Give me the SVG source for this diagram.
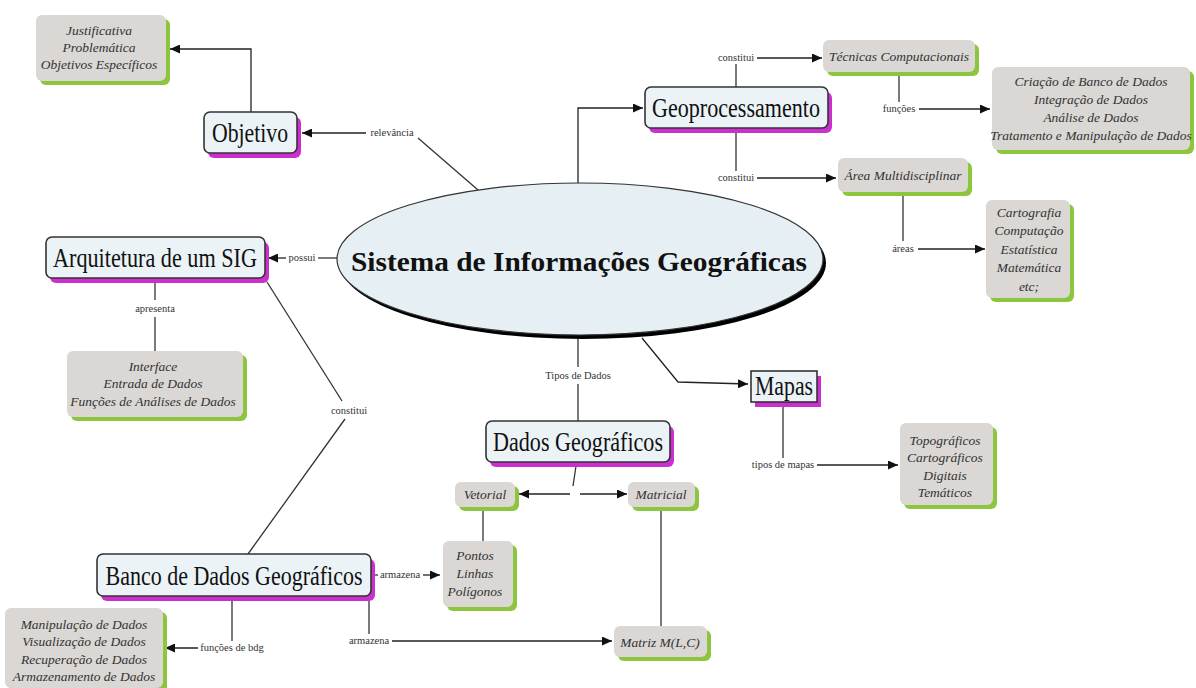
<svg xmlns="http://www.w3.org/2000/svg" width="1196" height="688" viewBox="0 0 1196 688" font-family="'Liberation Serif','Times New Roman',serif">
<defs>
<marker id="arr" markerUnits="userSpaceOnUse" markerWidth="11" markerHeight="9" refX="10" refY="4.5" orient="auto">
<path d="M0,0 L10,4.5 L0,9 z" fill="#111"/>
</marker>
<style>
.bg{fill:#ffffff}
.node{fill:#ebf3f7;stroke:#333;stroke-width:1.6}
.mag{fill:#cc2fd0}
.gray{fill:#dad7d4}
.grn{fill:#8cc63e}
.t{font-family:"Liberation Serif","Times New Roman",serif;fill:#111;text-anchor:middle;font-size:22px}
.it{font-family:"Liberation Serif","Times New Roman",serif;font-style:italic;font-size:13.5px;fill:#333;text-anchor:middle}
.lbl{font-family:"Liberation Serif","Times New Roman",serif;font-size:10.5px;fill:#333;text-anchor:middle}
.ln{fill:none;stroke:#333;stroke-width:1.3}
.la{fill:none;stroke:#222;stroke-width:1.3;marker-end:url(#arr)}
</style>
</defs>
<rect class="bg" x="0" y="0" width="1196" height="688"/>

<g id="connectors">
<!-- relevancia -->
<line class="ln" x1="478" y1="190" x2="418" y2="138"/>
<text class="lbl" x="392" y="136">relevância</text>
<line class="la" x1="366" y1="133" x2="302" y2="133"/>
<!-- objetivo -> justificativa -->
<polyline class="la" points="251,112 251,49 170,49"/>
<!-- geoprocessamento -->
<polyline class="la" points="578,183 578,108 643,108"/>
<!-- constitui top -->
<line class="ln" x1="736" y1="87" x2="736" y2="64"/>
<text class="lbl" x="736" y="61">constitui</text>
<line class="la" x1="757" y1="58" x2="822" y2="58"/>
<!-- funcoes -->
<line class="ln" x1="899" y1="76" x2="899" y2="102"/>
<text class="lbl" x="899" y="112">funções</text>
<line class="la" x1="919" y1="109" x2="990" y2="109"/>
<!-- constitui lower -->
<line class="ln" x1="736" y1="133" x2="736" y2="171"/>
<text class="lbl" x="736" y="181">constitui</text>
<line class="la" x1="757" y1="178" x2="836" y2="178"/>
<!-- areas -->
<line class="ln" x1="903" y1="196" x2="903" y2="241"/>
<text class="lbl" x="903" y="252">áreas</text>
<line class="la" x1="918" y1="249" x2="985" y2="249"/>
<!-- possui -->
<line class="ln" x1="337" y1="258" x2="318" y2="258"/>
<text class="lbl" x="302" y="261">possui</text>
<line class="la" x1="286" y1="258" x2="268" y2="258"/>
<!-- apresenta -->
<line class="ln" x1="155" y1="283" x2="155" y2="300"/>
<text class="lbl" x="155" y="312">apresenta</text>
<line class="ln" x1="155" y1="317" x2="155" y2="351"/>
<!-- constitui arq -> banco -->
<line class="ln" x1="267" y1="282" x2="342" y2="401"/>
<text class="lbl" x="349" y="414">constitui</text>
<line class="ln" x1="345" y1="419" x2="248" y2="554"/>
<!-- tipos de dados -->
<line class="ln" x1="578" y1="338" x2="578" y2="367"/>
<text class="lbl" x="578" y="379">Tipos de Dados</text>
<line class="ln" x1="578" y1="384" x2="578" y2="421"/>
<!-- mapas -->
<polyline class="la" points="642,338 678,382 748,384"/>
<!-- tipos de mapas -->
<line class="ln" x1="783" y1="406" x2="783" y2="458"/>
<text class="lbl" x="783" y="468">tipos de mapas</text>
<line class="la" x1="817" y1="465" x2="898" y2="465"/>
<!-- dados -> vetorial / matricial -->
<line class="ln" x1="576" y1="466" x2="573" y2="486"/>
<line class="la" x1="570" y1="494" x2="519" y2="494"/>
<line class="la" x1="580" y1="494" x2="627" y2="494"/>
<!-- vetorial -> pontos -->
<line class="ln" x1="483" y1="511" x2="483" y2="541"/>
<!-- matricial -> matriz -->
<line class="ln" x1="661" y1="511" x2="661" y2="626"/>
<!-- armazena right -->
<line class="ln" x1="372" y1="575" x2="378" y2="575"/>
<text class="lbl" x="400" y="578">armazena</text>
<line class="la" x1="423" y1="575" x2="440" y2="575"/>
<!-- funcoes de bdg -->
<line class="ln" x1="232" y1="601" x2="232" y2="641"/>
<text class="lbl" x="232" y="651">funções de bdg</text>
<line class="la" x1="198" y1="648" x2="165" y2="648"/>
<!-- armazena lower -->
<line class="ln" x1="369" y1="601" x2="369" y2="634"/>
<text class="lbl" x="369" y="644">armazena</text>
<line class="la" x1="392" y1="641" x2="612" y2="641"/>
</g>

<g id="sig">
<ellipse cx="583" cy="263" rx="243" ry="76" fill="#000"/>
<ellipse cx="580" cy="259" rx="243" ry="76" fill="#e6eff3" stroke="#333" stroke-width="1.2"/>
<text class="t" transform="translate(579,271) scale(1,1.26)" font-size="29.4" font-weight="bold" textLength="456" lengthAdjust="spacingAndGlyphs">Sistema de Informações Geográficas</text>
</g>

<g id="justificativa">
<rect class="grn" x="40" y="19" width="130" height="66" rx="6"/>
<rect class="gray" x="36" y="15" width="130" height="66" rx="6"/>
<text class="it" x="99" y="35">Justificativa</text>
<text class="it" x="99" y="52">Problemática</text>
<text class="it" x="99" y="69">Objetivos Específicos</text>
</g>

<g id="objetivo">
<rect class="mag" x="208" y="117" width="93" height="41" rx="6"/>
<rect class="node" x="204" y="112" width="93" height="41" rx="6"/>
<text class="t" transform="translate(250,142) scale(1,1.23)" textLength="76" lengthAdjust="spacingAndGlyphs">Objetivo</text>
</g>

<g id="geoprocessamento">
<rect class="mag" x="649" y="92" width="183" height="41" rx="6"/>
<rect class="node" x="645" y="87" width="183" height="41" rx="6"/>
<text class="t" transform="translate(736,117) scale(1,1.23)" textLength="168" lengthAdjust="spacingAndGlyphs">Geoprocessamento</text>
</g>

<g id="tecnicas">
<rect class="grn" x="827" y="44" width="152" height="32" rx="6"/>
<rect class="gray" x="823" y="40" width="152" height="32" rx="6"/>
<text class="it" x="899" y="61">Técnicas Computacionais</text>
</g>

<g id="criacao">
<rect class="grn" x="996" y="71" width="198" height="83" rx="6"/>
<rect class="gray" x="992" y="67" width="198" height="83" rx="6"/>
<text class="it" x="1091" y="86">Criação de Banco de Dados</text>
<text class="it" x="1091" y="104">Integração de Dados</text>
<text class="it" x="1091" y="122">Análise de Dados</text>
<text class="it" x="1091" y="140">Tratamento e Manipulação de Dados</text>
</g>

<g id="area">
<rect class="grn" x="842" y="162" width="130" height="34" rx="6"/>
<rect class="gray" x="838" y="158" width="130" height="34" rx="6"/>
<text class="it" x="903" y="180">Área Multidisciplinar</text>
</g>

<g id="cartografia">
<rect class="grn" x="990" y="204" width="84" height="98" rx="6"/>
<rect class="gray" x="986" y="200" width="84" height="98" rx="6"/>
<text class="it" x="1029" y="217">Cartografia</text>
<text class="it" x="1029" y="235">Computação</text>
<text class="it" x="1029" y="254">Estatística</text>
<text class="it" x="1029" y="272">Matemática</text>
<text class="it" x="1029" y="291">etc;</text>
</g>

<g id="arquitetura">
<rect class="mag" x="50" y="242" width="219" height="41" rx="6"/>
<rect class="node" x="46" y="237" width="219" height="41" rx="6"/>
<text class="t" transform="translate(155,267) scale(1,1.23)" textLength="204" lengthAdjust="spacingAndGlyphs">Arquitetura de um SIG</text>
</g>

<g id="interface">
<rect class="grn" x="71" y="355" width="176" height="66" rx="6"/>
<rect class="gray" x="67" y="351" width="176" height="66" rx="6"/>
<text class="it" x="153" y="371">Interface</text>
<text class="it" x="153" y="388">Entrada de Dados</text>
<text class="it" x="153" y="406">Funções de Análises de Dados</text>
</g>

<g id="mapas">
<rect class="mag" x="755" y="376" width="66" height="31"/>
<rect class="node" x="751" y="371" width="66" height="31"/>
<text class="t" transform="translate(784,395) scale(1,1.23)" textLength="58" lengthAdjust="spacingAndGlyphs">Mapas</text>
</g>

<g id="topograficos">
<rect class="grn" x="904" y="427" width="93" height="82" rx="6"/>
<rect class="gray" x="900" y="423" width="93" height="82" rx="6"/>
<text class="it" x="945" y="445">Topográficos</text>
<text class="it" x="945" y="462">Cartográficos</text>
<text class="it" x="945" y="480">Digitais</text>
<text class="it" x="945" y="497">Temáticos</text>
</g>

<g id="dados">
<rect class="mag" x="490" y="426" width="184" height="41" rx="6"/>
<rect class="node" x="486" y="421" width="184" height="41" rx="6"/>
<text class="t" transform="translate(578,451) scale(1,1.23)" textLength="170" lengthAdjust="spacingAndGlyphs">Dados Geográficos</text>
</g>

<g id="vetorial">
<rect class="grn" x="459" y="486" width="60" height="25" rx="6"/>
<rect class="gray" x="455" y="482" width="60" height="25" rx="6"/>
<text class="it" x="485" y="499">Vetorial</text>
</g>

<g id="matricial">
<rect class="grn" x="632" y="486" width="67" height="25" rx="6"/>
<rect class="gray" x="628" y="482" width="67" height="25" rx="6"/>
<text class="it" x="661" y="499">Matricial</text>
</g>

<g id="pontos">
<rect class="grn" x="447" y="545" width="70" height="66" rx="6"/>
<rect class="gray" x="443" y="541" width="70" height="66" rx="6"/>
<text class="it" x="475" y="560">Pontos</text>
<text class="it" x="475" y="578">Linhas</text>
<text class="it" x="475" y="596">Polígonos</text>
</g>

<g id="banco">
<rect class="mag" x="101" y="559" width="274" height="42" rx="6"/>
<rect class="node" x="97" y="554" width="274" height="42" rx="6"/>
<text class="t" transform="translate(234,585) scale(1,1.27)" textLength="257" lengthAdjust="spacingAndGlyphs">Banco de Dados Geográficos</text>
</g>

<g id="manipulacao">
<rect class="grn" x="9" y="612" width="158" height="80" rx="6"/>
<rect class="gray" x="5" y="608" width="158" height="80" rx="6"/>
<text class="it" x="84" y="629">Manipulação de Dados</text>
<text class="it" x="84" y="646">Visualização de Dados</text>
<text class="it" x="84" y="664">Recuperação de Dados</text>
<text class="it" x="84" y="681">Armazenamento de Dados</text>
</g>

<g id="matriz">
<rect class="grn" x="618" y="630" width="93" height="31" rx="6"/>
<rect class="gray" x="614" y="626" width="93" height="31" rx="6"/>
<text class="it" x="660" y="647">Matriz M(L,C)</text>
</g>
</svg>
